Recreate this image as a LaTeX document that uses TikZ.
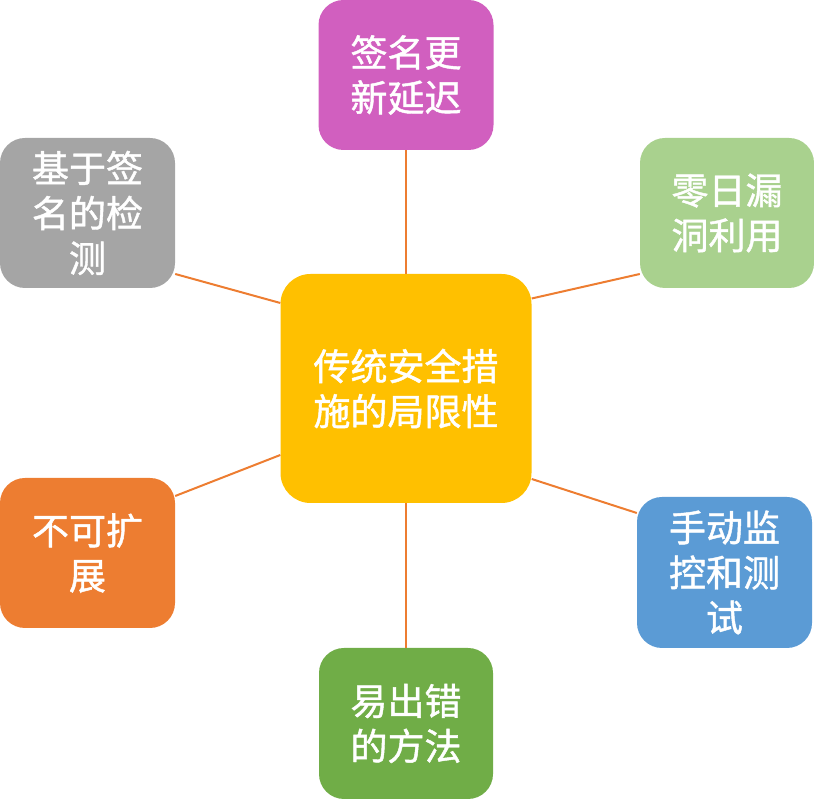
\documentclass[tikz,border=0pt]{standalone}
\usepackage{fontspec}
\newfontfamily\cjk[FakeBold=1.2]{Noto Sans CJK SC}
\definecolor{cgold}{HTML}{FFC000}
\definecolor{cpurple}{HTML}{D15FBF}
\definecolor{cgray}{HTML}{A5A5A5}
\definecolor{clgreen}{HTML}{A9D18E}
\definecolor{corange}{HTML}{ED7D31}
\definecolor{cblue}{HTML}{5B9BD5}
\definecolor{cgreen}{HTML}{70AD47}
\begin{document}
\begin{tikzpicture}[x=1pt,y=1pt,
  boxstyle/.style={rectangle, rounded corners=25pt, inner sep=0pt, draw=none,
    minimum width=175pt, minimum height=150pt, align=center, text=white,
    font=\cjk\fontsize{37}{45}\selectfont},
  centerbox/.style={boxstyle, rounded corners=30pt, minimum width=251pt, minimum height=229pt},
  linkstyle/.style={draw=corange, line width=2pt}]
\useasboundingbox (0,0) rectangle (814,799);
\node[centerbox, fill=cgold] (c) at (406,410.5) {传统安全措\\施的局限性};
\node[boxstyle, fill=cpurple] (t) at (406,724) {签名更\\新延迟};
\node[boxstyle, fill=cgray] (tl) at (87.5,586) {基于签\\名的检\\测};
\node[boxstyle, fill=clgreen, minimum width=174pt] (tr) at (727,586) {零日漏\\洞利用};
\node[boxstyle, fill=corange] (l) at (87.5,246) {不可扩\\展};
\node[boxstyle, fill=cblue, minimum height=151pt] (r) at (724.5,226.5) {手动监\\控和测\\试};
\node[boxstyle, fill=cgreen, minimum width=174pt, minimum height=151pt] (b) at (406,75.5) {易出错\\的方法};
\draw[linkstyle] (t.south) -- (c.north);
\draw[linkstyle] (c.south) -- (b.north);
\draw[linkstyle] ([yshift=-61pt]tl.east) -- ([yshift=85.5pt]c.west);
\draw[linkstyle] ([yshift=-61pt]tr.west) -- ([yshift=90pt]c.east);
\draw[linkstyle] ([yshift=57pt]l.east) -- ([yshift=-66.5pt]c.west);
\draw[linkstyle] ([yshift=59.5pt]r.west) -- ([yshift=-90.5pt]c.east);
\end{tikzpicture}
\end{document}
